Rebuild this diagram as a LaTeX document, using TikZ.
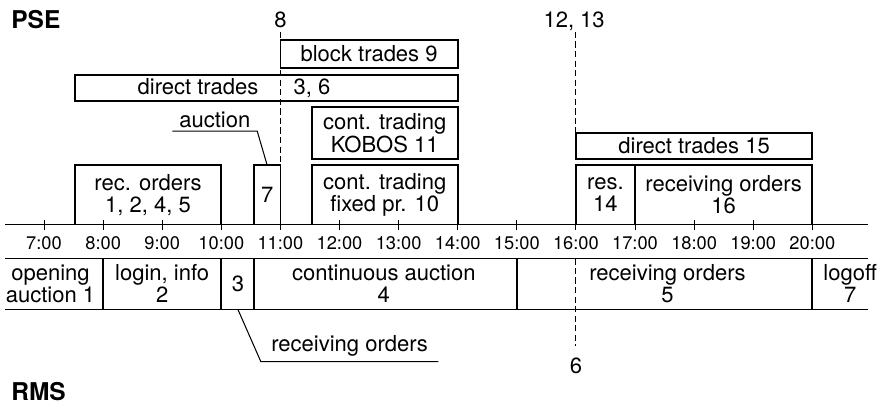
\documentclass[tikz,border=0pt]{standalone}
\usepackage{fontspec}
\setmainfont{TeX Gyre Heros}
\usetikzlibrary{positioning}

\begin{document}
\begin{tikzpicture}[font=\fontsize{10.6}{10.8}\selectfont,
  box/.style={draw,line width=0.8pt,inner sep=0pt,outer sep=0pt,align=center,anchor=south west},
  bar/.style={line width=0.8pt},
  tick/.style={line width=0.5pt},
  guide/.style={line width=0.5pt,dash pattern=on 3pt off 1.6pt},
  callout/.style={line width=0.5pt},
  lbl/.style={align=center,inner sep=0pt},
  hr/.style={font=\fontsize{8.8}{8.8}\selectfont,inner sep=0pt},
  title/.style={font=\fontsize{11.8}{11.8}\selectfont\bfseries,anchor=base west,inner sep=0pt}]
\useasboundingbox (6.255,-3.02) rectangle (21.213,3.80);

% system names
\node[title] (pse) at (6.44,3.31) {PSE};
\node[title] (rms) at (6.44,-2.97) {RMS};

% PSE sessions
\node[box,minimum width=3cm,minimum height=0.47cm] (blk) at (11,2.65) {block trades 9};
\node[box,minimum width=6.48cm,minimum height=0.44cm] (dir) at (7.52,2.09) {direct trades\hspace{17pt}3, 6\hspace*{31pt}};
\node[box,minimum width=2.47cm,minimum height=0.882cm] (kobos) at (11.53,1.108) {cont. trading\\KOBOS 11};
\node[box,minimum width=2.47cm,minimum height=1.007cm] (fixed) at (11.53,0) {cont. trading\\fixed pr. 10};
\node[box,minimum width=2.48cm,minimum height=1.007cm] (rec) at (7.52,0) {rec. orders\\1, 2, 4, 5};
\node[box,minimum width=0.45cm,minimum height=1.007cm] (auc) at (10.55,0) {7};
\node[box,minimum width=4cm,minimum height=0.44cm] (dir15) at (16,1.108) {direct trades 15};
\node[box,minimum width=1cm,minimum height=1.007cm] (res) at (16,0) {res.\\14};
\node[box,minimum width=3cm,minimum height=1.007cm] (recv) at (17,0) {receiving orders\\16};

% time axis
\draw[bar] (6.34,0) -- (20.94,0);
\foreach \h in {7,...,20} {
  \draw[tick] (\h,0.085) -- (\h,-0.085);
  \node[hr] (t\h) at (\h,-0.313) {\h:00};
}

% RMS sessions
\draw[bar] (6.34,-0.572) -- (20.94,-0.572);
\draw[bar] (6.34,-1.435) -- (20.94,-1.435);
\foreach \x in {8,10,10.55,15,20}
  \draw[bar] (\x,-0.572) -- (\x,-1.435);
\node[lbl] (open) at (7.11,-1.0) {opening\\auction 1};
\node[lbl] (login) at (9,-1.0) {login, info\\2};
\node[lbl] (ro3) at (10.28,-1.0) {3};
\node[lbl] (cont) at (12.75,-1.0) {continuous auction\\4};
\node[lbl] (ro5) at (17.55,-1.0) {receiving orders\\5};
\node[lbl] (logoff) at (20.64,-1.0) {logoff\\7};

% events
\node[lbl,anchor=base] (l8) at (11,3.33) {8};
\node[lbl,anchor=base] (l1213) at (15.97,3.33) {12, 13};
\node[lbl] (l6) at (16,-2.39) {6};
\coordinate (t11) at (11,3.26);
\coordinate (t16) at (16,3.26);
\coordinate (b16) at (16,-0.572);
\draw[guide] (t11) -- (auc.north east);
\draw[guide] (t16) -- (dir15.north west);
\draw[guide] (b16) -- ([yshift=0.2cm]l6.north);

% callouts
\node[lbl,inner xsep=0.11cm,inner ysep=1.5pt,anchor=south] (lauc) at (9.89,1.58) {auction};
\draw[callout] (lauc.south west) -- (lauc.south east) -- (auc.north);
\coordinate (b3) at (10.28,-1.435);
\node[lbl,inner xsep=0.17cm,inner ysep=2.5pt,anchor=south] (lrecv) at (12.17,-2.32) {receiving orders};
\draw[callout] (b3) -- (lrecv.south west) -- (lrecv.south east);
\end{tikzpicture}
\end{document}
